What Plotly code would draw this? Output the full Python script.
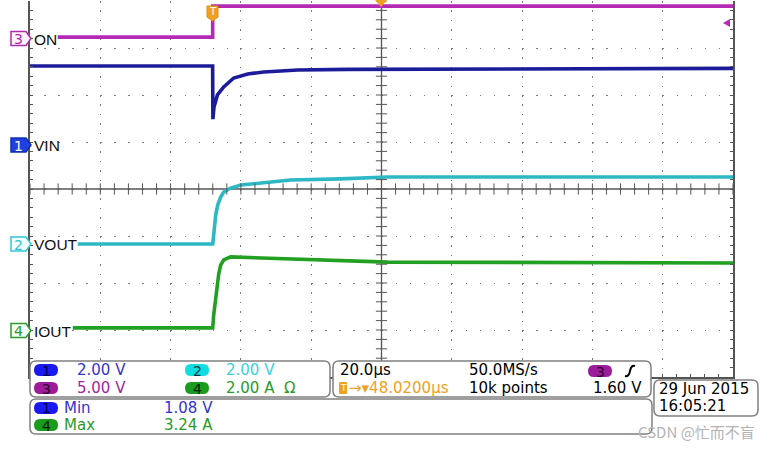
import numpy as np
import plotly.graph_objects as go

# ---------------- data ----------------
# time in microseconds relative to the trigger point
on_t = [-44.1, -0.01, 0.0, 148.02]
on_v = [0.16, 0.16, 3.46, 3.46]                       # CH3  (V)

vin_t = [-51.98, -0.02, 0.05, 0.37, 1.34, 3.13, 5.97, 9.96, 14.5, 24.2, 38.4, 57.2, 100.0, 148.02]
vin_v = [3.36, 3.36, 1.10, 1.62, 2.13, 2.47, 2.85, 3.02, 3.11, 3.19, 3.22, 3.23, 3.25, 3.26]   # CH1 (V)

vout_t = [-38.4, 0.0, 0.28, 0.85, 1.42, 2.28, 3.13, 5.1, 8.0, 13.7, 22.2, 36.4, 49.8, 81.9, 148.02]
vout_v = [0.0, 0.0, 0.38, 1.23, 1.66, 2.00, 2.21, 2.38, 2.51, 2.60, 2.72, 2.77, 2.85, 2.85, 2.85]  # CH2 (V)

iout_t = [-39.8, 0.0, 0.28, 0.85, 1.71, 2.28, 3.13, 5.1, 12.8, 27.0, 49.8, 148.02]
iout_a = [0.11, 0.11, 0.66, 1.43, 2.40, 2.79, 3.00, 3.13, 3.09, 3.00, 2.91, 2.87]  # CH4 (A)

ch_scale = {"1": 2.0, "2": 2.0, "3": 5.0, "4": 2.0}          # units / div
ch_offset = {"1": 0.936, "2": -1.17, "3": 3.20, "4": -3.01}   # ground position in div
ch_label = {"1": "VIN", "2": "VOUT", "3": "ON", "4": "IOUT"}

readout_scale = ["2.00 V", "2.00 V", "5.00 V", "2.00 A  Ω"]
time_div = "20.0µs"
trig_pos = "48.0200µs"
sample_rate = "50.0MS/s"
record_len = "10k points"
trig_level = "1.60 V"
meas_names = ["Min", "Max"]
meas_vals = ["1.08 V", "3.24 A"]
date_lines = ["29 Jun 2015", "16:05:21"]

X_MIN, X_MAX = -51.98, 148.02
X_CENTER = 48.02

# ---------------- layout helpers ----------------
W, H = 772, 450
L, R, T, B = 30, 733, 1, 377


def px(x):
    return (x - L) / (R - L)


def py(y):
    return (B - y) / (B - T)


def rrect(x0, y0, x1, y1, r):
    return (f"M {px(x0 + r)},{py(y0)} L {px(x1 - r)},{py(y0)} Q {px(x1)},{py(y0)} {px(x1)},{py(y0 + r)} "
            f"L {px(x1)},{py(y1 - r)} Q {px(x1)},{py(y1)} {px(x1 - r)},{py(y1)} "
            f"L {px(x0 + r)},{py(y1)} Q {px(x0)},{py(y1)} {px(x0)},{py(y1 - r)} "
            f"L {px(x0)},{py(y0 + r)} Q {px(x0)},{py(y0)} {px(x0 + r)},{py(y0)} Z")


def poly(points):
    s = "M " + " L ".join(f"{px(a)},{py(b)}" for a, b in points) + " Z"
    return s


def to_div(vals, ch):
    return [ch_offset[ch] + v / ch_scale[ch] for v in vals]


shapes = []
annotations = []


def text(x, y, s, color="#000", size=15, family="DejaVu Sans", xanchor="left"):
    annotations.append(dict(x=px(x), y=py(y), xref="paper", yref="paper", text=s, showarrow=False,
                            xanchor=xanchor, yanchor="middle",
                            font=dict(color=color, size=size, family=family)))


def path(p, fill, line="rgba(0,0,0,0)", lw=1.0):
    shapes.append(dict(type="path", path=p, xref="paper", yref="paper", fillcolor=fill,
                       line=dict(color=line, width=lw), layer="above"))


# ---------------- traces ----------------
fig = go.Figure()

trace_color = {"1": "#1c1c9a", "2": "#2cb8c4", "3": "#b42ab4", "4": "#22a022"}
series = [("3", on_t, on_v), ("1", vin_t, vin_v), ("2", vout_t, vout_v), ("4", iout_t, iout_a)]
for ch, t, v in series:
    fig.add_trace(go.Scatter(x=t, y=to_div(v, ch), mode="lines",
                             line=dict(color=trace_color[ch], width=3.6), hoverinfo="skip"))

# center-line tick marks (graticule)
hx = np.arange(X_MIN, X_MAX + 0.01, 4.0)
fig.add_trace(go.Scatter(x=hx, y=np.zeros_like(hx), mode="markers", hoverinfo="skip",
                         marker=dict(symbol="line-ns", size=8, line=dict(color="#555", width=1))))
vy = np.arange(-4, 4.01, 0.2)
fig.add_trace(go.Scatter(x=np.full_like(vy, X_CENTER), y=vy, mode="markers", hoverinfo="skip",
                         marker=dict(symbol="line-ew", size=8, line=dict(color="#555", width=1))))

# center lines
shapes.append(dict(type="line", xref="x", yref="y", x0=X_MIN, x1=X_MAX, y0=0, y1=0,
                   line=dict(color="#555", width=1.3), layer="between"))
shapes.append(dict(type="line", xref="x", yref="y", x0=X_CENTER, x1=X_CENTER, y0=-4, y1=4,
                   line=dict(color="#555", width=1.3), layer="between"))

# ---------------- channel markers on left ----------------
marker_style = {
    "3": dict(fill="#fdf4fd", line="#b02ab0", txt="#b02ab0", cy=38.5),
    "1": dict(fill="#2040e0", line="#1030b0", txt="#ffffff", cy=145),
    "2": dict(fill="#f4feff", line="#30c8d8", txt="#30c0d0", cy=244),
    "4": dict(fill="#f4fff4", line="#2a9a2a", txt="#2a9a2a", cy=330.5),
}
for ch, st in marker_style.items():
    cy = st["cy"]
    path(poly([(11, cy - 7), (26, cy - 7), (31, cy), (26, cy + 7), (11, cy + 7)]),
         st["fill"], st["line"], 1.5)
    text(18.5, cy + 0.5, ch, st["txt"], 14, "DejaVu Sans", "center")
    text(32, cy + 0.5, ch_label[ch], "#111", 15.5, "Liberation Sans")

# trigger position marker (T) and center marker
path(poly([(207, 6), (218, 6), (218, 17), (212.5, 21), (207, 17)]), "#f0a020", "#e09010", 1)
text(212.5, 11.5, "T", "#ffffff", 10, "DejaVu Sans", "center")
path(poly([(375, 0), (387, 0), (381, 7)]), "#f0a020")
# trigger level marker
path(poly([(723, 23), (730, 19), (730, 27)]), "#b42ab4")

# ---------------- readout boxes ----------------
box_line = "#808080"
path(rrect(30, 361, 330, 397, 6), "#ffffff", box_line, 1.5)
path(rrect(333, 361, 651, 397, 6), "#ffffff", box_line, 1.5)
path(rrect(30, 399, 652, 434, 6), "#ffffff", box_line, 1.5)
path(rrect(654, 380, 758, 416, 6), "#ffffff", box_line, 1.5)

pill = {"1": ("#1a1af0", "#00004a"), "2": ("#10dde0", "#003a40"),
        "3": ("#9c1c9c", "#2a002a"), "4": ("#1c9c1c", "#002000")}
txt_col = {"1": "#3434cc", "2": "#3cd0dc", "3": "#a024a0", "4": "#2a9a2a"}


def pill_at(ch, x0, cy):
    path(rrect(x0, cy - 6, x0 + 24, cy + 6, 6), pill[ch][0])
    text(x0 + 12, cy + 0.5, ch, pill[ch][1], 14, "DejaVu Sans", "center")


# box 1: vertical scales
pill_at("1", 34, 370)
text(75, 370, readout_scale[0], txt_col["1"])
pill_at("2", 185, 370)
text(224, 370, readout_scale[1], txt_col["2"])
pill_at("3", 34, 388)
text(75, 388, readout_scale[2], txt_col["3"])
pill_at("4", 185, 388)
text(224, 388, readout_scale[3], txt_col["4"])

# box 2: horizontal / trigger
text(338, 370, time_div, "#000")
path(rrect(339, 382, 347, 394, 1), "#f0a020")
text(343, 388, "T", "#ffffff", 9, "DejaVu Sans", "center")
text(347, 388, "→▾" + trig_pos, "#f0a020")
text(467, 370, sample_rate, "#000")
text(467, 388, record_len, "#000")
pill_at("3", 588, 371)
shapes.append(dict(type="path", xref="paper", yref="paper", layer="above",
                   path=f"M {px(625)},{py(376)} Q {px(629)},{py(377)} {px(630)},{py(371)} "
                        f"Q {px(631)},{py(365)} {px(635)},{py(366)}",
                   line=dict(color="#000", width=2)))
text(644, 388, trig_level, "#000", xanchor="right")

# box 3: measurements
pill_at("1", 34, 408)
text(62, 408, meas_names[0], txt_col["1"])
text(162, 408, meas_vals[0], txt_col["1"])
pill_at("4", 34, 425)
text(62, 425, meas_names[1], txt_col["4"])
text(162, 425, meas_vals[1], txt_col["4"])

# date box
text(657, 389, date_lines[0], "#000")
text(657, 406, date_lines[1], "#000")

# watermark
text(757, 432, "CSDN @忙而不盲", "#b4b4b4", 15, "Noto Sans CJK SC", "right")

fig.update_layout(
    width=W, height=H,
    margin=dict(l=L, r=W - R, t=T, b=H - B),
    paper_bgcolor="#ffffff", plot_bgcolor="#ffffff",
    showlegend=False,
    shapes=shapes, annotations=annotations,
    xaxis=dict(range=[X_MIN, X_MAX], tick0=8.02, dtick=20, showticklabels=False,
               showgrid=True, gridcolor="#7a7a7a", gridwidth=1, griddash="1.5px,7.9px",
               zeroline=False, showline=True, linecolor="#555", linewidth=1.5,
               ticks="inside", ticklen=3, tickcolor="#555",
               minor=dict(dtick=4, ticks="inside", ticklen=3, tickcolor="#555", showgrid=False)),
    yaxis=dict(range=[-4, 4], dtick=1, showticklabels=False,
               showgrid=True, gridcolor="#7a7a7a", gridwidth=1, griddash="1.5px,12.56px",
               zeroline=False, showline=True, mirror="ticks", linecolor="#555", linewidth=1.5,
               ticks="inside", ticklen=3, tickcolor="#555",
               minor=dict(dtick=0.2, ticks="inside", ticklen=3, tickcolor="#555", showgrid=False)),
)

fig.write_html("out.html", config={"displayModeBar": False},
               post_script="document.body.style.margin='0';document.body.style.overflow='hidden';")
